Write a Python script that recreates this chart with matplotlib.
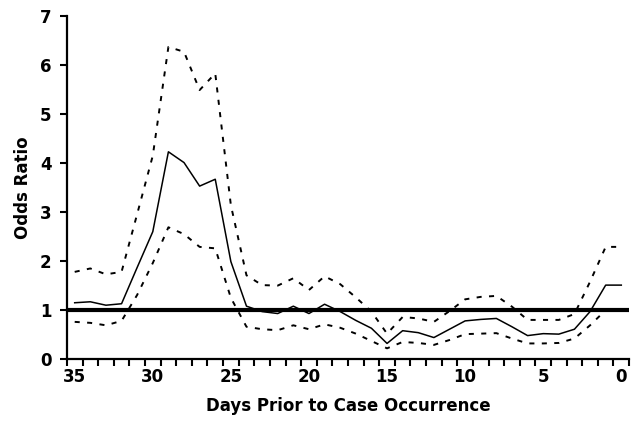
import matplotlib
matplotlib.use("Agg")
import matplotlib.pyplot as plt
from matplotlib.ticker import MultipleLocator

days = list(range(35, -1, -1))

odds = [1.15, 1.17, 1.10, 1.13, 1.87, 2.60, 4.23, 4.01, 3.53, 3.67,
        1.99, 1.08, 0.97, 0.93, 1.08, 0.93, 1.12, 0.97, 0.79, 0.63,
        0.32, 0.58, 0.54, 0.44, 0.61, 0.78, 0.81, 0.83, 0.66, 0.48,
        0.52, 0.51, 0.61, 0.97, 1.51, 1.51]

upper = [1.78, 1.85, 1.73, 1.78, 2.96, 4.15, 6.37, 6.27, 5.49, 5.83,
         3.14, 1.71, 1.51, 1.50, 1.65, 1.41, 1.69, 1.53, 1.26, 0.97,
         0.52, 0.86, 0.83, 0.76, 0.98, 1.22, 1.27, 1.29, 1.07, 0.80,
         0.80, 0.80, 0.92, 1.58, 2.29, 2.29]

lower = [0.76, 0.74, 0.69, 0.78, 1.31, 1.96, 2.69, 2.55, 2.29, 2.26,
         1.25, 0.66, 0.61, 0.59, 0.69, 0.61, 0.71, 0.64, 0.52, 0.37,
         0.22, 0.35, 0.33, 0.29, 0.39, 0.51, 0.52, 0.53, 0.42, 0.32,
         0.32, 0.33, 0.42, 0.69, 1.00, 1.00]

reference = 1.0

fig = plt.figure(figsize=(6.31, 4.22), dpi=100)
ax = fig.add_axes([0.106, 0.149, 0.891, 0.813])

ax.axhline(reference, color="black", lw=3, zorder=1)
ax.plot(days, upper, color="black", lw=1.4, dashes=(2.6, 3.8), zorder=2)
ax.plot(days, lower, color="black", lw=1.4, dashes=(2.6, 3.8), zorder=2)
ax.plot(days, odds, color="black", lw=1.1, zorder=3)

ax.set_xlim(35.5, -0.5)
ax.set_ylim(0, 7)
ax.xaxis.set_major_locator(MultipleLocator(5))
ax.xaxis.set_minor_locator(MultipleLocator(1, offset=0.5))
ax.yaxis.set_major_locator(MultipleLocator(1))

for side in ["top", "right"]:
    ax.spines[side].set_visible(False)
for side in ["left", "bottom"]:
    ax.spines[side].set_linewidth(1.6)

ax.tick_params(axis="x", which="major", length=0, pad=6.5,
               labelsize=12)
ax.tick_params(axis="x", which="minor", length=5, width=1.5,
               direction="out")
ax.tick_params(axis="y", which="major", length=5, width=1.5,
               direction="out", labelsize=12, pad=6)
for lbl in ax.get_xticklabels() + ax.get_yticklabels():
    lbl.set_fontweight("bold")

ax.set_xlabel("Days Prior to Case Occurrence", fontsize=12,
              fontweight="bold", labelpad=8)
ax.set_ylabel("Odds Ratio", fontsize=12, fontweight="bold", labelpad=6)

fig.savefig("out.png", dpi=100)
